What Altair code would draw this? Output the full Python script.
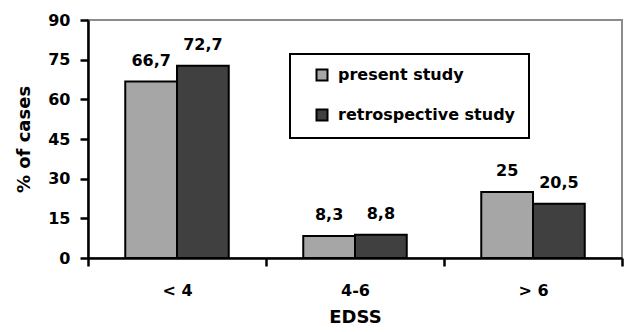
import altair as alt
import pandas as pd

categories = ["< 4", "4-6", "> 6"]
series = ["present study", "retrospective study"]
present = [66.7, 8.3, 25]
retro = [72.7, 8.8, 20.5]
colors = ["#A6A6A6", "#404040"]

rows = []
for c, p, r in zip(categories, present, retro):
    rows.append({"EDSS": c, "study": series[0], "value": p})
    rows.append({"EDSS": c, "study": series[1], "value": r})
df = pd.DataFrame(rows)

FONT = "DejaVu Sans"

x = alt.X("EDSS:N", sort=categories, title="EDSS",
          scale=alt.Scale(paddingInner=0, paddingOuter=0),
          axis=alt.Axis(labelAngle=0, tickBand="extent"))
xo = alt.XOffset("study:N", sort=series,
                 scale=alt.Scale(paddingInner=0, paddingOuter=0.72))
y = alt.Y("value:Q", title="% of cases",
          scale=alt.Scale(domain=[0, 90], nice=False),
          axis=alt.Axis(values=[0, 15, 30, 45, 60, 75, 90]))

bars = alt.Chart(df).mark_bar(stroke="black", strokeWidth=2).encode(
    x=x, xOffset=xo, y=y,
    color=alt.Color("study:N", sort=series, title=None,
                    scale=alt.Scale(domain=series, range=colors),
                    legend=alt.Legend(labelExpr="datum.label + '\u00a0\u00a0\u00a0\u00a0'")),
)

labels = alt.Chart(df).transform_calculate(
    label="replace(toString(datum.value), '.', ',')"
).mark_text(font=FONT, fontWeight="bold", fontSize=16, baseline="alphabetic",
            dy=-16, color="black").encode(
    x=x, xOffset=xo, y=y, text="label:N"
)

chart = alt.layer(bars, labels).properties(
    width=534, height=238,
    autosize=alt.AutoSizeParams(type="none"),
    padding={"left": 88, "top": 20, "right": 4, "bottom": 74},
).configure_view(
    stroke="#8c8c8c", strokeWidth=2
).configure_axis(
    grid=False, domainColor="black", domainWidth=2.5, tickColor="black",
    tickWidth=2.5, tickSize=8, labelFont=FONT, labelFontWeight="bold",
    labelFontSize=16, labelColor="black", titleFont=FONT, titleFontWeight="bold",
    titleFontSize=18, titleColor="black",
).configure_axisX(
    labelPadding=16, titlePadding=10,
).configure_axisY(
    labelPadding=10, titlePadding=14,
).configure_legend(
    orient="none", legendX=202, legendY=34, strokeColor="black", strokeWidth=2,
    padding=13, rowPadding=20, symbolType="square", symbolSize=121,
    symbolStrokeColor="black", symbolStrokeWidth=2, symbolOffset=11,
    labelOffset=8, labelFont=FONT, labelFontWeight="bold", labelFontSize=16,
    labelColor="black", fillColor="white", labelLimit=400,
)

chart.save("out.html", embed_options={"renderer": "svg", "actions": False})
